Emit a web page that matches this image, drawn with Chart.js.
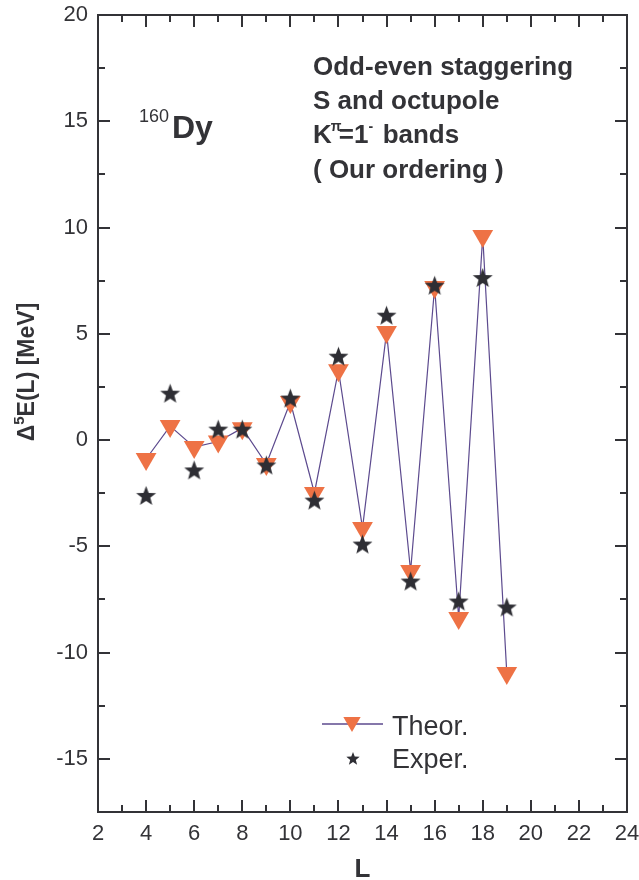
<!DOCTYPE html>
<html>
<head>
<meta charset="utf-8">
<script src="https://cdn.jsdelivr.net/npm/chart.js@4/dist/chart.umd.min.js"></script>
<style>
  html, body { margin: 0; padding: 0; background: #fff; }
  #wrap { width: 639px; height: 880px; }
</style>
</head>
<body>
<div id="wrap"><canvas id="stagger" width="639" height="880"></canvas></div>
<script>
// --- data: odd-even staggering Δ5E(L) for the K=1- band of 160Dy ---
const spins   = [4, 5, 6, 7, 8, 9, 10, 11, 12, 13, 14, 15, 16, 17, 18, 19];
const theor   = [-0.89, 0.66, -0.33, -0.07, 0.56, -1.13, 1.79, -2.49, 3.29, -4.14, 5.08, -6.16, 7.2, -8.37, 9.6, -10.96];
const exper   = [-2.65, 2.16, -1.45, 0.47, 0.47, -1.22, 1.93, -2.87, 3.9, -4.94, 5.83, -6.68, 7.24, -7.62, 7.6, -7.9];
const xTicks  = [2, 4, 6, 8, 10, 12, 14, 16, 18, 20, 22, 24];
const yTicks  = [-15, -10, -5, 0, 5, 10, 15, 20];
const xRange  = [2, 24];
const yRange  = [-17.5, 20];

const FONT   = "'Liberation Sans', Arial, Helvetica, sans-serif";
const INK    = '#333337';
const ORANGE = '#ee7245';
const STAR   = '#2e2e34';
const PURPLE = '#5c4a8e';

// filled five-point star, used as an image point style
function makeStar(R, ratio, color) {
  const size = Math.ceil(2 * R + 2);
  const c = document.createElement('canvas');
  c.width = size; c.height = size;
  const g = c.getContext('2d');
  const cx = size / 2, cy = size / 2;
  g.beginPath();
  for (let i = 0; i < 10; i++) {
    const r = i % 2 === 0 ? R : R * ratio;
    const a = -Math.PI / 2 + i * Math.PI / 5;
    const px = cx + r * Math.cos(a), py = cy + r * Math.sin(a);
    if (i === 0) g.moveTo(px, py); else g.lineTo(px, py);
  }
  g.closePath();
  g.fillStyle = color;
  g.fill();
  return c;
}
const starBig   = makeStar(10.5, 0.42, STAR);
const starSmall = makeStar(7, 0.42, STAR);

// frame, inward ticks on all four sides, annotations and legend
const decor = {
  id: 'decor',
  afterDraw(chart) {
    const { ctx, chartArea: a, scales: { x, y } } = chart;
    ctx.save();
    ctx.strokeStyle = INK;
    ctx.lineWidth = 2;

    ctx.beginPath();
    for (let v = xRange[0]; v <= xRange[1]; v += 1) {
      const px = Math.round(x.getPixelForValue(v));
      const len = v % 2 === 0 ? 12 : 7;
      ctx.moveTo(px, a.bottom); ctx.lineTo(px, a.bottom - len);
      ctx.moveTo(px, a.top);    ctx.lineTo(px, a.top + len);
    }
    for (let v = -15; v <= 20; v += 2.5) {
      const py = Math.round(y.getPixelForValue(v));
      const len = v % 5 === 0 ? 12 : 7;
      ctx.moveTo(a.left, py);  ctx.lineTo(a.left + len, py);
      ctx.moveTo(a.right, py); ctx.lineTo(a.right - len, py);
    }
    ctx.stroke();
    ctx.strokeRect(a.left, a.top, a.right - a.left, a.bottom - a.top);

    ctx.fillStyle = INK;
    ctx.textBaseline = 'alphabetic';
    ctx.textAlign = 'left';

    // nucleus label
    ctx.font = `18px ${FONT}`;
    ctx.fillText('160', 139, 122);
    ctx.font = `bold 32px ${FONT}`;
    ctx.fillText('Dy', 172, 138);

    // description block
    const tx = 313;
    ctx.font = `bold 26px ${FONT}`;
    ctx.fillText('Odd-even staggering', tx, 75);
    ctx.fillText('S and octupole', tx, 109);
    let cx = tx;
    ctx.fillText('K', cx, 143); cx += ctx.measureText('K').width;
    ctx.font = `bold 14px ${FONT}`;
    ctx.fillText('π', cx - 1, 131); cx += 7;
    ctx.font = `bold 26px ${FONT}`;
    ctx.fillText('=1', cx, 143); cx += ctx.measureText('=1').width;
    ctx.font = `bold 14px ${FONT}`;
    ctx.fillText('-', cx, 131); cx += 7;
    ctx.font = `bold 26px ${FONT}`;
    ctx.fillText(' bands', cx, 143);
    ctx.fillText('( Our ordering )', tx, 178);

    // axis titles
    ctx.font = `bold 26px ${FONT}`;
    ctx.textAlign = 'center';
    ctx.fillText('L', (a.left + a.right) / 2, 877);

    ctx.save();
    ctx.translate(34, 372);
    ctx.rotate(-Math.PI / 2);
    const parts = [['Δ', 'bold 23px', 0], ['5', 'bold 15px', -10], ['E(L) [MeV]', 'bold 23px', 0]];
    let total = 0;
    parts.forEach(p => { ctx.font = `${p[1]} ${FONT}`; total += ctx.measureText(p[0]).width; });
    let ox = -total / 2;
    ctx.textAlign = 'left';
    parts.forEach(p => {
      ctx.font = `${p[1]} ${FONT}`;
      ctx.fillText(p[0], ox, p[2]);
      ox += ctx.measureText(p[0]).width;
    });
    ctx.restore();

    // legend
    ctx.strokeStyle = PURPLE;
    ctx.lineWidth = 1.3;
    ctx.beginPath();
    ctx.moveTo(322, 724); ctx.lineTo(383, 724);
    ctx.stroke();
    ctx.fillStyle = ORANGE;
    Chart.helpers.drawPoint(ctx, { pointStyle: 'triangle', radius: 10, rotation: 180, borderWidth: 0 }, 352, 722);
    Chart.helpers.drawPoint(ctx, { pointStyle: starSmall, radius: 7, rotation: 0, borderWidth: 0 }, 353, 759);
    ctx.fillStyle = INK;
    ctx.font = `27px ${FONT}`;
    ctx.textAlign = 'left';
    ctx.fillText('Theor.', 392, 735);
    ctx.fillText('Exper.', 392, 768);

    ctx.restore();
  }
};

const pts = vals => spins.map((l, i) => ({ x: l, y: vals[i] }));

// pin the plot box: fixed axis sizes and no extra label overflow padding
function fitX(s) { s.height = 68; s.paddingLeft = 0; s.paddingRight = 0; }
function fitY(s) { s.width = 98; s.paddingTop = 0; s.paddingBottom = 0; }

new Chart(document.getElementById('stagger'), {
  type: 'line',
  data: {
    datasets: [
      {
        label: 'Theor.',
        data: pts(theor),
        order: 2,
        borderColor: PURPLE,
        borderWidth: 1.2,
        tension: 0,
        pointStyle: 'triangle',
        rotation: 180,
        pointRadius: 12,
        pointBackgroundColor: ORANGE,
        pointBorderWidth: 0,
      },
      {
        label: 'Exper.',
        data: pts(exper),
        order: 1,
        showLine: false,
        pointStyle: starBig,
        pointRadius: 10,
        pointBorderWidth: 0,
      }
    ]
  },
  options: {
    responsive: false,
    animation: false,
    devicePixelRatio: 1,
    layout: { autoPadding: false, padding: { top: 15, right: 12, left: 0, bottom: 0 } },
    plugins: { legend: { display: false }, tooltip: { enabled: false } },
    scales: {
      x: {
        type: 'linear',
        min: xRange[0], max: xRange[1],
        afterBuildTicks: s => { s.ticks = xTicks.map(v => ({ value: v })); },
        afterFit: fitX,
        grid: { display: false, drawTicks: false },
        border: { display: false },
        ticks: { color: INK, font: { family: FONT, size: 22 }, padding: 9, maxRotation: 0, autoSkip: false }
      },
      y: {
        min: yRange[0], max: yRange[1],
        afterBuildTicks: s => { s.ticks = yTicks.map(v => ({ value: v })); },
        afterFit: fitY,
        grid: { display: false, drawTicks: false },
        border: { display: false },
        ticks: { color: INK, font: { family: FONT, size: 22 }, padding: 10 }
      }
    }
  },
  plugins: [decor]
});
</script>
</body>
</html>
